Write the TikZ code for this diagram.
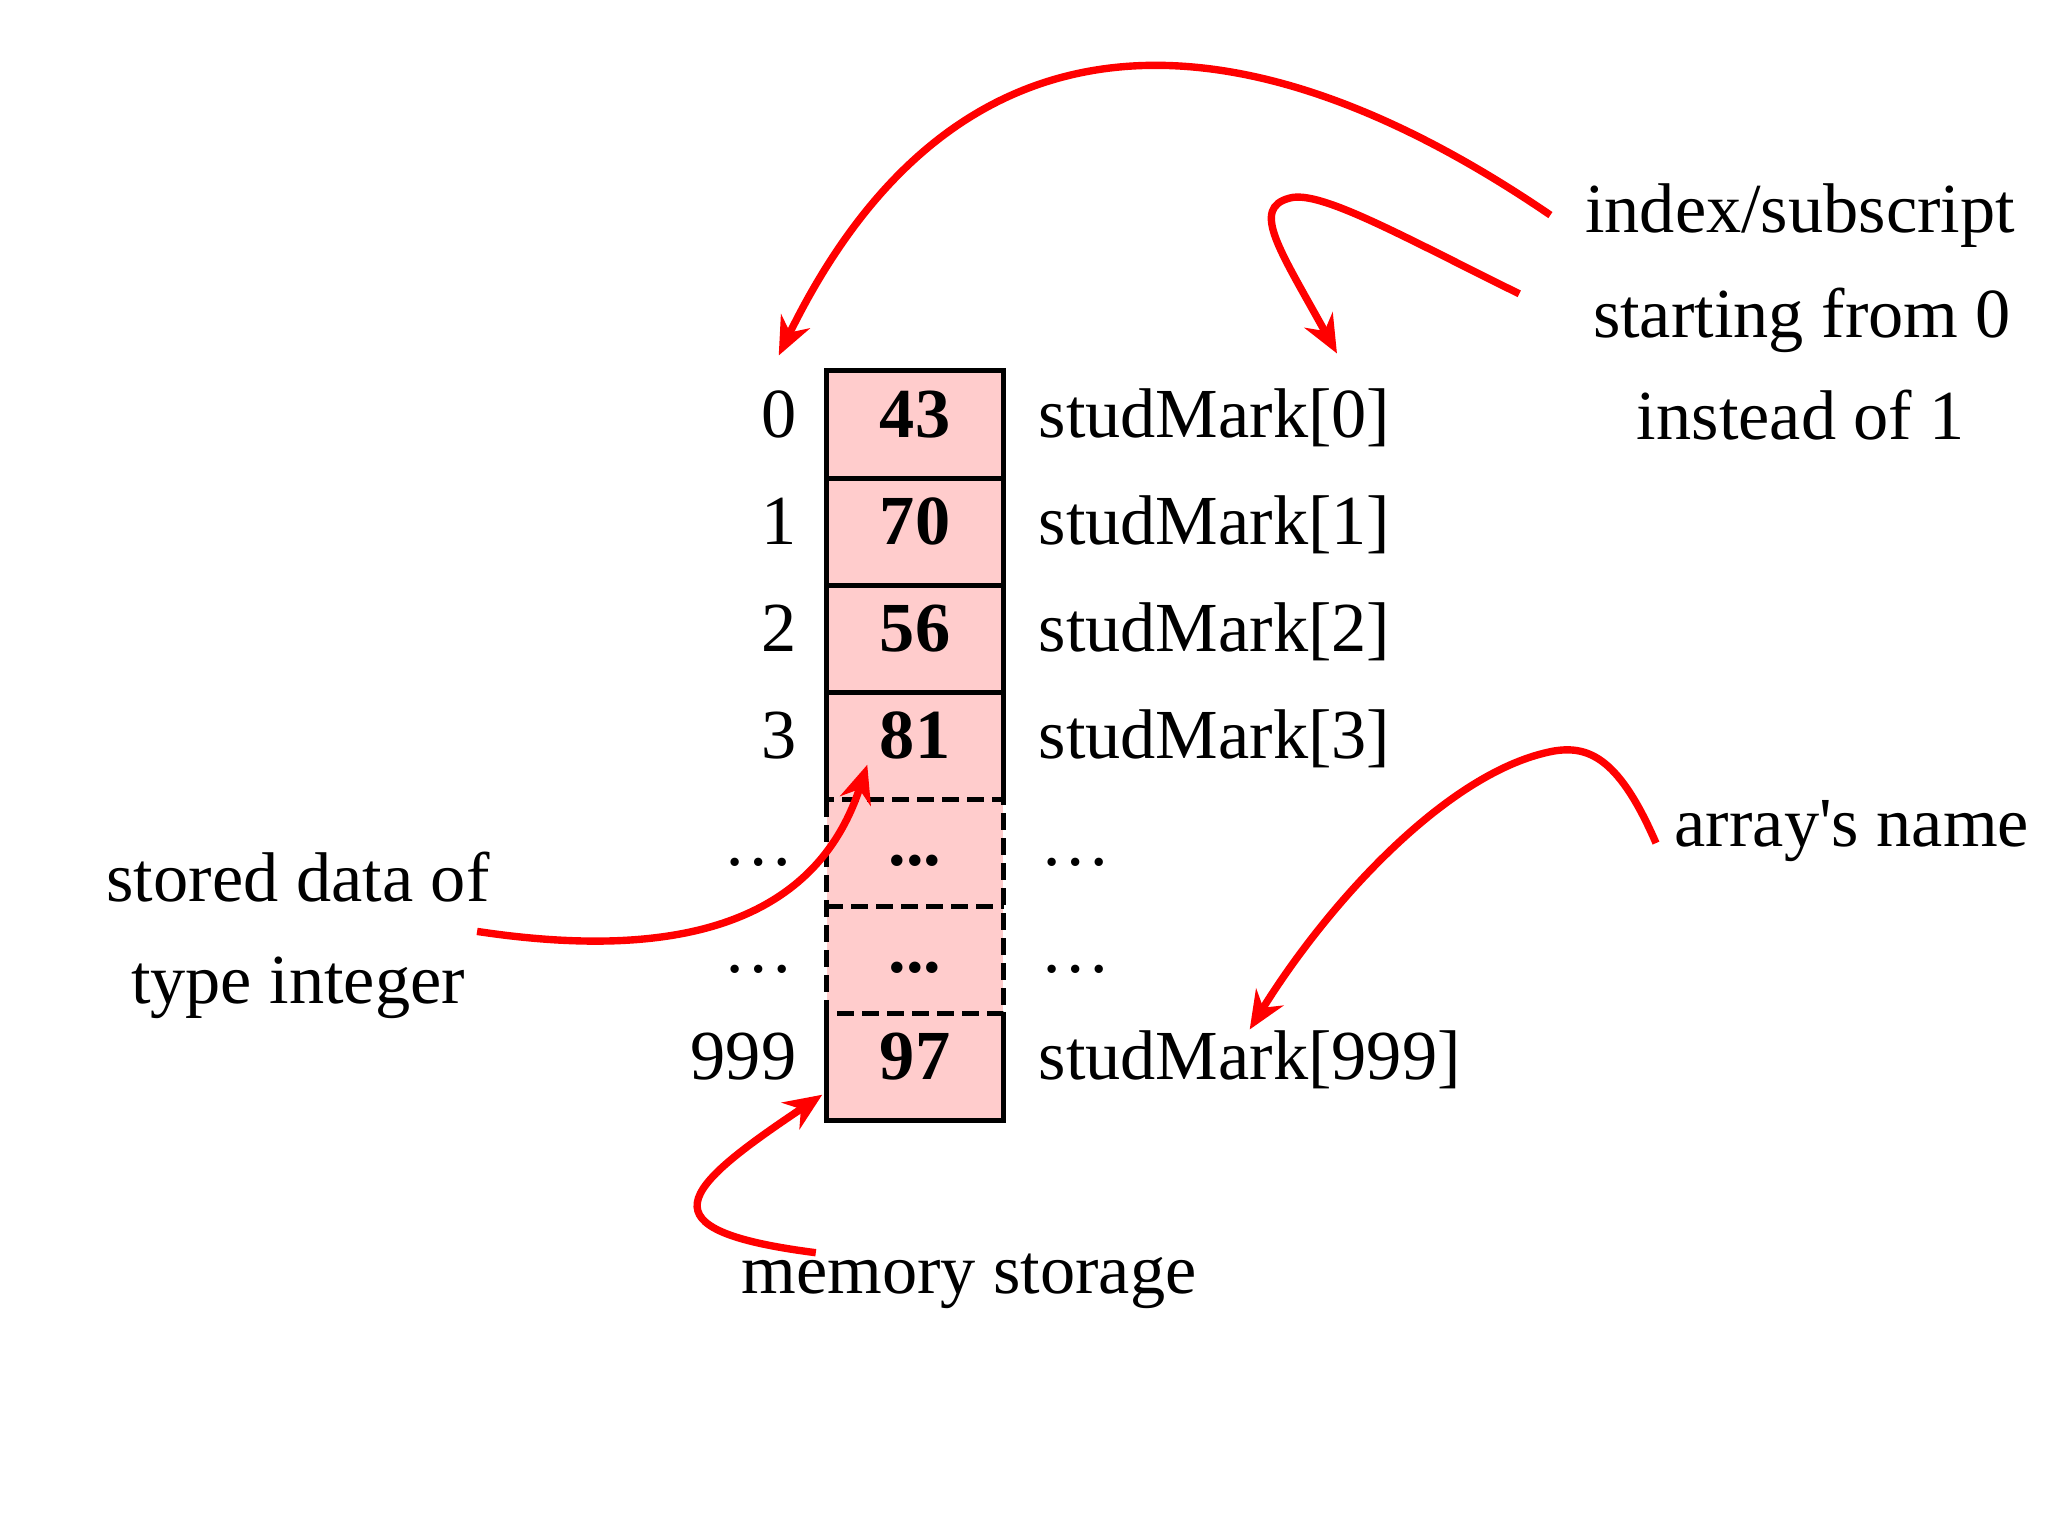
\documentclass[tikz,border=0pt]{standalone}
\usepackage{fontspec}
\setmainfont{Liberation Serif}
\usetikzlibrary{arrows.meta}
\definecolor{cellfill}{HTML}{FFCCCC}
\definecolor{markred}{HTML}{FF0000}
\tikzset{cell/.style={fill=cellfill,minimum width=17.6mm,minimum height=10.7mm,inner sep=0pt,text height=5mm,text depth=2.5mm,font=\fontsize{20}{24}\selectfont\bfseries},lab/.style={inner sep=0pt,font=\fontsize{20}{24}\selectfont},wall/.style={line width=1.4pt},gap/.style={wall,dash pattern=on 1.7mm off 0.8mm},arrow/.style={draw=markred,line width=2.1pt,-{Stealth[length=3.8mm,width=3.2mm]}}}
\begin{document}
\begin{tikzpicture}[x=0.01cm,y=-0.01cm]
\useasboundingbox (0,0) rectangle (2048,1536);
% memory cells
\node[cell] (c0) at (915,424.5) {43};
\node[cell] (c1) at (915,531.5) {70};
\node[cell] (c2) at (915,638.5) {56};
\node[cell] (c3) at (915,745.5) {81};
\node[cell] (c4) at (915,852.5) {...};
\node[cell] (c5) at (915,959.5) {...};
\node[cell] (c6) at (915,1066.5) {97};
\draw[wall] (c3.south west) |- (c0.north east) -- (c3.south east);
\draw[wall] (c0.south west) -- (c0.south east) (c1.south west) -- (c1.south east) (c2.south west) -- (c2.south east);
\draw[gap] (c3.south west) rectangle (c5.south east) (c4.south west) -- (c4.south east);
\draw[wall] (c6.north west) |- (c6.south east) -- (c6.north east);
% indices and names
\node[lab,anchor=base east] (i0) at (797,437) {0};
\node[lab,anchor=base east] (i1) at (797,544) {1};
\node[lab,anchor=base east] (i2) at (797,651) {2};
\node[lab,anchor=base east] (i3) at (797,758) {3};
\node[lab,anchor=base east] (i4) at (795,865) {…};
\node[lab,anchor=base east] (i5) at (795,972) {…};
\node[lab,anchor=base east] (i6) at (797,1079) {999};
\node[lab,anchor=base west] (s0) at (1038,437) {studMark[0]};
\node[lab,anchor=base west] (s1) at (1038,544) {studMark[1]};
\node[lab,anchor=base west] (s2) at (1038,651) {studMark[2]};
\node[lab,anchor=base west] (s3) at (1038,758) {studMark[3]};
\node[lab,anchor=base west] (s4) at (1040,865) {…};
\node[lab,anchor=base west] (s5) at (1040,972) {…};
\node[lab,anchor=base west] (s6) at (1038,1079) {studMark[999]};
% notes
\node[lab,anchor=base] (idx1) at (1800,232) {index/subscript};
\node[lab,anchor=base] (idx2) at (1802,337) {starting from 0};
\node[lab,anchor=base] (idx3) at (1801,439) {instead of 1};
\node[lab,anchor=base west] (arrname) at (1674,846) {array\textquotesingle s name};
\node[lab,anchor=base] (sd1) at (298,901) {stored data of};
\node[lab,anchor=base] (sd2) at (298,1003) {type integer};
\node[lab,anchor=base] (mem) at (969,1293) {memory storage};
% pointers
\draw[arrow] ([xshift=-3.4mm]idx1.west) .. controls (1250,10) and (960,-15) .. ([yshift=3.4mm]i0.north);
\draw[arrow] ([xshift=-7.3mm,yshift=2.6mm]idx2.west) .. controls (1400,235) and (1320,190) .. (1290,198) .. controls (1250,208) and (1280,250) .. ([xshift=-5.4mm,yshift=3.4mm]s0.north east);
\draw[arrow] ([xshift=-1.8mm,yshift=-1.25mm]arrname.west) .. controls (1620,760) and (1590,745) .. (1554,751) .. controls (1450,770) and (1330,900) .. (s6.north);
\draw[arrow] ([xshift=-1.3mm,yshift=-2.9mm]sd1.south east) .. controls (700,965) and (820,910) .. ([xshift=4.1mm,yshift=3.5mm]c3.south west);
\draw[arrow] ([xshift=7.5mm]mem.north west) .. controls (640,1230) and (680,1190) .. ([xshift=-0.4mm,yshift=2.6mm]c6.south west);
\end{tikzpicture}
\end{document}
